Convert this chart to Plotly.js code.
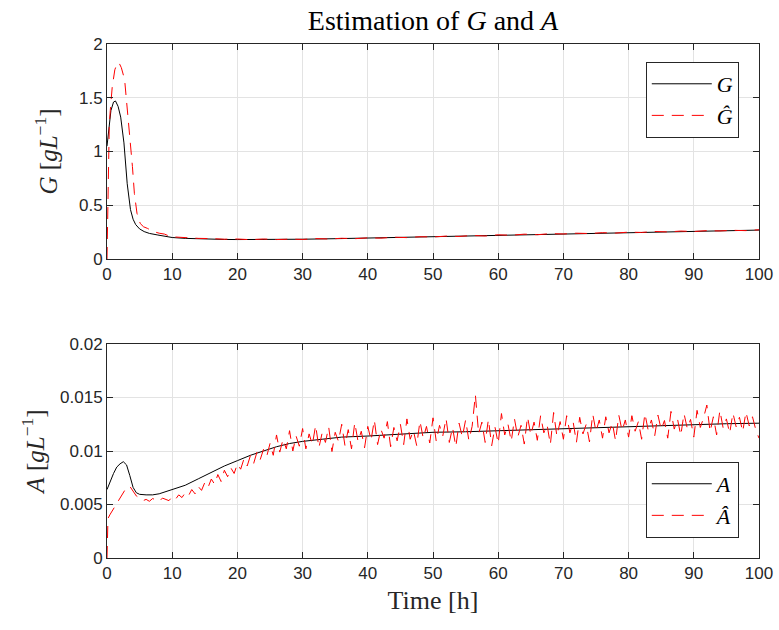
<!DOCTYPE html>
<html>
<head>
<meta charset="utf-8">
<script src="https://cdn.plot.ly/plotly-3.0.1.min.js"></script>
<style>html,body{margin:0;padding:0;background:#fff;}#chart{width:779px;height:630px;}</style>
</head>
<body>
<div id="chart"></div>
<script>
// ---- Data ----
const tG = [0,0.3,0.6,1.0,1.3,1.7,2.1,2.6,3.1,3.6,4.0,4.4,5.0,5.7,6.5,7.8,10,12,14,16,18,20,25,30,35,40,45,50,55,60,65,70,75,80,85,90,95,100];
const G  = [1.05,1.25,1.38,1.46,1.47,1.42,1.32,1.08,0.70,0.46,0.37,0.32,0.28,0.255,0.238,0.223,0.200,0.192,0.187,0.184,0.182,0.181,0.181,0.184,0.189,0.195,0.202,0.209,0.216,0.223,0.230,0.236,0.242,0.248,0.254,0.259,0.264,0.269];

const tGhat = [0,0.1,0.2,0.35,0.5,0.8,1.2,1.5,1.8,2.2,2.7,3.1,3.5,3.9,4.2,4.6,5.1,5.6,6.2,7.2,8.0,8.8,9.8,
  12,14,16,18,20,22,24,26,28,30,32,34,36,38,40,42,44,46,48,50,52,54,56,58,60,62,64,66,68,70,72,74,76,78,80,82,84,86,88,90,92,94,96,98,100];
const Ghat = [0,0.5,1.0,1.25,1.38,1.6,1.76,1.81,1.83,1.78,1.67,1.42,1.14,0.86,0.61,0.425,0.33,0.30,0.285,0.254,0.240,0.232,0.207,
  0.198,0.192,0.190,0.184,0.186,0.180,0.186,0.181,0.185,0.182,0.190,0.186,0.193,0.189,0.197,0.194,0.203,0.199,0.207,0.205,0.213,0.210,0.219,0.214,0.225,0.221,0.231,0.226,0.236,0.233,0.240,0.237,0.245,0.241,0.250,0.247,0.256,0.252,0.260,0.256,0.264,0.261,0.267,0.264,0.272];

const tA = [0,0.5,1,1.5,2,2.5,3,3.5,4,4.5,5,6,7,8,9,10,12,14,16,18,20,22,24,26,28,30,33,36,40,45,50,55,60,65,70,75,80,85,90,95,100];
const A  = [0.0064,0.0072,0.0079,0.0085,0.0088,0.0090,0.0087,0.0077,0.0066,0.0061,0.00595,0.0059,0.0059,0.0060,0.0062,0.0064,0.0068,0.0074,0.0080,0.0086,0.0091,0.0096,0.0100,0.0104,0.0107,0.0109,0.0111,0.0113,0.0114,0.0116,0.01175,0.0118,0.0119,0.0120,0.0121,0.0122,0.0123,0.0124,0.0125,0.01255,0.0126];

const tAhatStart = [0,0.05,0.15,0.5,1.0,1.5,2.0,2.5,3.0,3.5,4.0,4.5];
const AhatStart  = [0,0.0030,0.0037,0.0041,0.0046,0.0051,0.0056,0.0062,0.0066,0.0067,0.0063,0.0058];
// from t = 5 h to 100 h, every 0.5 h (one row = 5 h)
const AhatTail = [
0.00560,0.00535,0.00548,0.00530,0.00556,0.00541,0.00528,0.00560,0.00545,0.00536,
0.00572,0.00548,0.00590,0.00565,0.00610,0.00582,0.00640,0.00600,0.00668,0.00632,
0.00705,0.00660,0.00738,0.00690,0.00780,0.00715,0.00820,0.00760,0.00842,0.00790,
0.00880,0.00830,0.00925,0.00860,0.00958,0.00885,0.00990,0.00920,0.01015,0.00950,
0.01070,0.00960,0.01150,0.00990,0.01110,0.01020,0.01190,0.01000,0.01140,0.01045,
0.01210,0.01020,0.01160,0.01060,0.01240,0.01030,0.01170,0.01080,0.01225,0.00995,
0.01175,0.01090,0.01250,0.01050,0.01200,0.01020,0.01265,0.01090,0.01185,0.01030,
0.01230,0.01100,0.01290,0.01060,0.01205,0.01120,0.01275,0.01040,0.01220,0.01095,
0.01250,0.01060,0.01300,0.01110,0.01190,0.01050,0.01280,0.01120,0.01230,0.01075,
0.01310,0.01090,0.01240,0.01140,0.01305,0.01080,0.01220,0.01040,0.01260,0.01130,
0.01290,0.01100,0.01230,0.01525,0.01160,0.01270,0.01080,0.01295,0.01050,0.01225,
0.01070,0.01350,0.01150,0.01250,0.01090,0.01300,0.01130,0.01240,0.01065,0.01320,
0.01150,0.01270,0.01100,0.01330,0.01170,0.01245,0.01060,0.01360,0.01140,0.01275,
0.01110,0.01330,0.01170,0.01270,0.01080,0.01315,0.01160,0.01250,0.01085,0.01345,
0.01180,0.01290,0.01120,0.01320,0.01170,0.01265,0.01095,0.01335,0.01190,0.01290,
0.01130,0.01330,0.01185,0.01275,0.01110,0.01350,0.01195,0.01290,0.01140,0.01335,
0.01200,0.01285,0.01120,0.01370,0.01205,0.01300,0.01145,0.01350,0.01210,0.01295,
0.01130,0.01380,0.01220,0.01310,0.01430,0.01180,0.01320,0.01150,0.01380,0.01215,
0.01300,0.01165,0.01355,0.01225,0.01315,0.01180,0.01365,0.01235,0.01320,0.01200,
0.01120];
const tAhatTail = AhatTail.map((_, i) => 5 + 0.5 * i);
const tAhat = tAhatStart.concat(tAhatTail);
const Ahat = AhatStart.concat(AhatTail);

const xTicks = [0,10,20,30,40,50,60,70,80,90,100];
const gTicks = [0,0.5,1,1.5,2];
const gTickText = ["0","0.5","1","1.5","2"];
const aTicks = [0,0.005,0.01,0.015,0.02];
const aTickText = ["0","0.005","0.01","0.015","0.02"];

// ---- Chart ----
const serif = "Liberation Serif, Times New Roman, serif";
const sans = "Liberation Sans, Arial, sans-serif";
const axisCol = "#262626";
const gridCol = "#e3e3e3";

const traces = [
  {x: tG, y: G, xaxis: "x", yaxis: "y", mode: "lines", name: "<i>G</i>",
   line: {color: "#000000", width: 1}, legend: "legend"},
  {x: tGhat, y: Ghat, xaxis: "x", yaxis: "y", mode: "lines", name: "<i>G\u0302</i>",
   line: {color: "#ff0000", width: 1, dash: "12px,8px"}, legend: "legend"},
  {x: tA, y: A, xaxis: "x2", yaxis: "y2", mode: "lines", name: "<i>A</i>",
   line: {color: "#000000", width: 1}, legend: "legend2"},
  {x: tAhat, y: Ahat, xaxis: "x2", yaxis: "y2", mode: "lines", name: "<i>A\u0302</i>",
   line: {color: "#ff0000", width: 1, dash: "12px,8px"}, legend: "legend2"}
];

function xAxis(anchor) {
  return {
    anchor: anchor, range: [0, 100], tickvals: xTicks, ticktext: xTicks.map(String),
    ticks: "inside", ticklen: 6, tickcolor: axisCol, showline: true, linecolor: axisCol,
    linewidth: 1, mirror: "ticks", showgrid: true, gridcolor: gridCol, zeroline: false,
    tickfont: {family: sans, size: 17, color: axisCol}
  };
}
function yAxis(anchor, domain, range, vals, text, title, standoff) {
  return {
    anchor: anchor, domain: domain, range: range, tickvals: vals, ticktext: text,
    ticks: "inside", ticklen: 6, tickcolor: axisCol, showline: true, linecolor: axisCol,
    linewidth: 1, mirror: "ticks", showgrid: true, gridcolor: gridCol, zeroline: false,
    tickfont: {family: sans, size: 17, color: axisCol},
    title: {text: title, font: {family: serif, size: 25, color: axisCol}, standoff: standoff}
  };
}

const xa1 = xAxis("y");
const xa2 = xAxis("y2");
xa2.title = {text: "Time [h]", font: {family: serif, size: 26, color: axisCol}, standoff: 8};

const legendFont = {family: serif, size: 22, color: "#000"};
const layout = {
  width: 779, height: 630,
  margin: {l: 107, r: 20, t: 44, b: 72},
  paper_bgcolor: "#ffffff", plot_bgcolor: "#ffffff",
  title: {text: "Estimation of <i>G</i> and <i>A</i>", font: {family: serif, size: 28, color: "#000"},
          x: 0.5, xref: "paper", y: 0.968, yanchor: "middle"},
  xaxis: xa1,
  xaxis2: xa2,
  yaxis: yAxis("x", [0.5817, 1], [0, 2], gTicks, gTickText, "<i>G</i> [<i>gL</i><sup>\u22121</sup>]", 14),
  yaxis2: yAxis("x2", [0, 0.4163], [0, 0.02], aTicks, aTickText, "<i>A</i> [<i>gL</i><sup>\u22121</sup>]", 8),
  showlegend: true,
  legend: {x: 0.969, y: 0.965, xanchor: "right", yanchor: "top", bgcolor: "#ffffff",
           bordercolor: axisCol, borderwidth: 1, font: legendFont, itemwidth: 60},
  legend2: {x: 0.969, y: 0.039, xanchor: "right", yanchor: "bottom", bgcolor: "#ffffff",
           bordercolor: axisCol, borderwidth: 1, font: legendFont, itemwidth: 60}
};

Plotly.newPlot("chart", traces, layout, {staticPlot: true, displayModeBar: false});
</script>
</body>
</html>
